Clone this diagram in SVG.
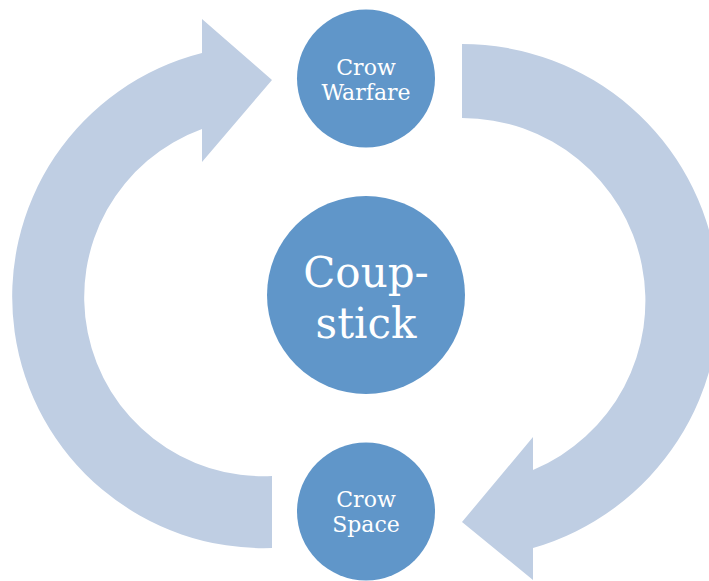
<svg xmlns="http://www.w3.org/2000/svg" width="709" height="581" viewBox="0 0 709 581">
<style>
.arrow{fill:#BFCEE3;}
.node{fill:#6096C9;}
.lbl{fill:#FFFFFF;font-family:"DejaVu Serif","Liberation Serif",serif;text-anchor:middle;}
.sm{font-size:22px;}
.lg{font-size:42px;}
</style>
<g id="connectors">
<path id="arrow-left" class="arrow" d="M272,548 A251.4,251.4 0 0 1 202,53 L202,19 L272,80 L202,162 L202,129 A179,179 0 0 0 272,476 Z"/>
<path id="arrow-right" class="arrow" d="M462,44 A257,257 0 0 1 533,548 L533,580 L462,522 L533,437 L533,470 A183.1,183.1 0 0 0 462,118 Z"/>
</g>
<g id="node-warfare">
<circle class="node" cx="366" cy="78.5" r="69"/>
<text class="lbl sm" x="366" y="75">Crow</text>
<text class="lbl sm" x="366" y="100">Warfare</text>
</g>
<g id="node-coupstick">
<circle class="node" cx="366" cy="295" r="99"/>
<text class="lbl lg" x="366" y="287">Coup-</text>
<text class="lbl lg" x="366" y="338">stick</text>
</g>
<g id="node-space">
<circle class="node" cx="366" cy="511.5" r="69"/>
<text class="lbl sm" x="366" y="507">Crow</text>
<text class="lbl sm" x="366" y="532">Space</text>
</g>
</svg>
